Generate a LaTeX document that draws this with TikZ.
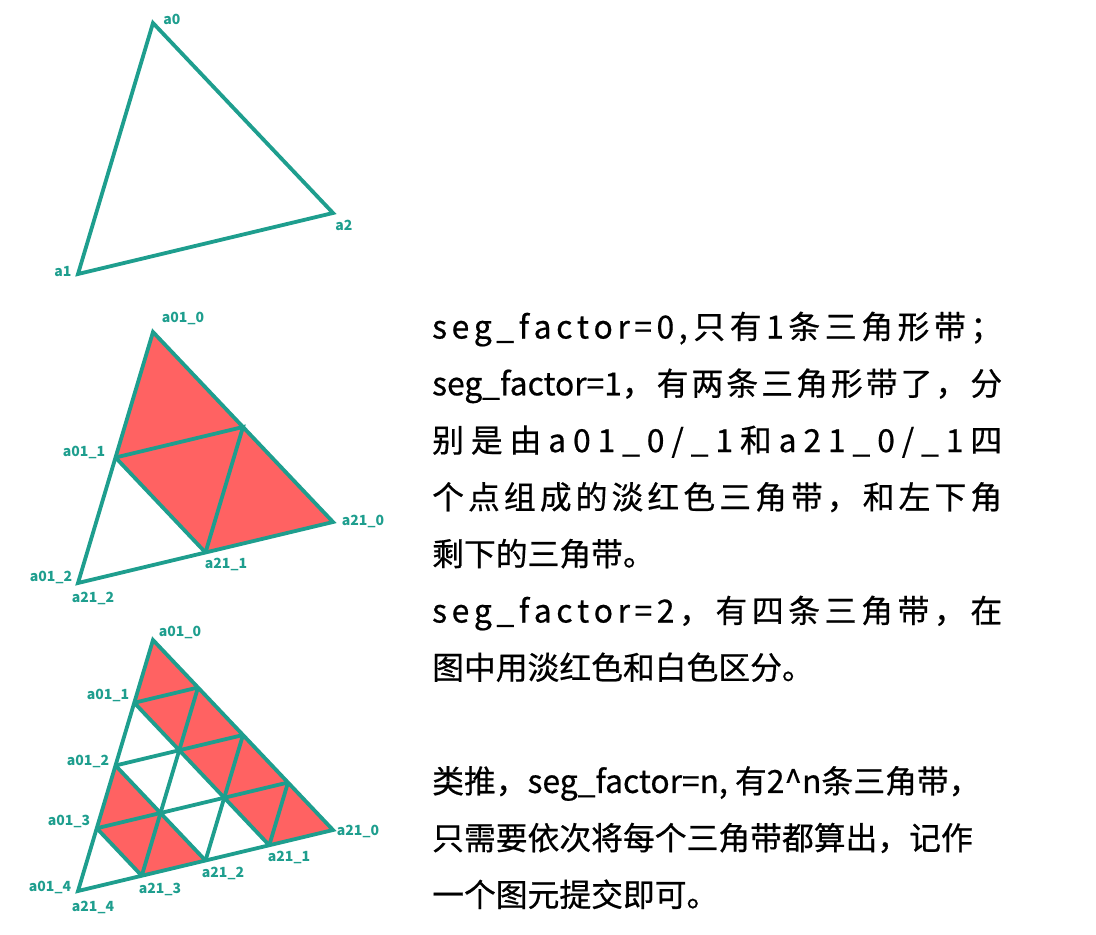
\documentclass[tikz,border=0pt]{standalone}
\usepackage{fontspec}
\setmainfont{Noto Sans CJK SC}
\newfontfamily\notefont[FakeBold=0.6]{Noto Sans CJK SC}
\usepackage{tikz}
\usetikzlibrary{calc}

\definecolor{edgeteal}{HTML}{1E9E8E}
\definecolor{bandred}{HTML}{FF6262}

% one justified line of the note, spaces stretch
\newcommand\spreadline[1]{\makebox[570pt][s]{\spaceskip=0pt plus 1fil\relax #1}}

\begin{document}
\begin{tikzpicture}[x=1pt,y=-1pt,
  edge/.style={draw=edgeteal,line width=3.8pt,line join=miter},
  band/.style={fill=bandred},
  vlbl/.style={text=edgeteal,font=\fontsize{14}{16}\selectfont\bfseries,inner sep=0pt},
  note/.style={anchor=base west,inner sep=0pt,font=\notefont\fontsize{31.8}{36}\selectfont}]
\useasboundingbox (0,0) rectangle (1096,935);

% seg_factor = 0
\coordinate (a0) at (153,23);
\coordinate (a1) at (78,274);
\coordinate (a2) at (333,213);
\draw[edge] (a0) -- (a1) -- (a2) -- cycle;
\node[vlbl] (la0) at (172,19) {a0};
\node[vlbl] (la1) at (63,272) {a1};
\node[vlbl] (la2) at (344,225) {a2};

% seg_factor = 1
\coordinate (b0) at (153,332);
\coordinate (b1) at (78,583);
\coordinate (b2) at (333,522);
\coordinate (b01) at ($(b0)!.5!(b1)$);
\coordinate (b21) at ($(b2)!.5!(b1)$);
\coordinate (b02) at ($(b0)!.5!(b2)$);
\fill[band] (b0) -- (b01) -- (b21) -- (b2) -- cycle;
\draw[edge] (b01) -- (b21);
\draw[edge] (b01) -- (b02) -- (b21);
\draw[edge] (b0) -- (b1) -- (b2) -- cycle;
\node[vlbl] (lb010) at (183,318) {a01\_0};
\node[vlbl] (lb011) at (84,452) {a01\_1};
\node[vlbl] (lb012) at (51,577) {a01\_2};
\node[vlbl] (lb212) at (93,598) {a21\_2};
\node[vlbl] (lb211) at (226,564) {a21\_1};
\node[vlbl] (lb210) at (363,521) {a21\_0};

% seg_factor = 2
\coordinate (c0) at (153,640);
\coordinate (c1) at (78,891);
\coordinate (c2) at (333,830);
\foreach \k in {0,...,4} {
  \coordinate (c01_\k) at ($(c0)!\k/4!(c1)$);
  \coordinate (c21_\k) at ($(c2)!\k/4!(c1)$);
  \coordinate (c02_\k) at ($(c0)!\k/4!(c2)$);
}
\foreach \k/\j in {0/1,2/3}
  \fill[band] (c01_\k) -- (c01_\j) -- (c21_\j) -- (c21_\k) -- cycle;
\foreach \k/\m in {1/3,2/2,3/1} {
  \draw[edge] (c01_\k) -- (c21_\k);
  \draw[edge] (c01_\k) -- (c02_\k);
  \draw[edge] (c21_\k) -- (c02_\m);
}
\draw[edge] (c0) -- (c1) -- (c2) -- cycle;
\node[vlbl] (lc010) at (180,632) {a01\_0};
\node[vlbl] (lc011) at (108,695) {a01\_1};
\node[vlbl] (lc012) at (88,761) {a01\_2};
\node[vlbl] (lc013) at (69,821) {a01\_3};
\node[vlbl] (lc014) at (50,887) {a01\_4};
\node[vlbl] (lc214) at (93,907) {a21\_4};
\node[vlbl] (lc213) at (160,889) {a21\_3};
\node[vlbl] (lc212) at (223,873) {a21\_2};
\node[vlbl] (lc211) at (289,857) {a21\_1};
\node[vlbl] (lc210) at (358,831) {a21\_0};

% the note on the right
\node[note] (l1) at (432,338.5) {\spreadline{s e g \_{} f a c t o r = 0 , 只 有 1 条 三 角 形 带 ；}};
\node[note] (l2) at (432,395.3) {\spreadline{seg\_factor=1， 有 两 条 三 角 形 带 了 ， 分}};
\node[note] (l3) at (432,452.1) {\spreadline{别 是 由 a 0 1 \_{} 0 / \_{} 1 和 a 2 1 \_{} 0 / \_{} 1 四}};
\node[note] (l4) at (432,508.9) {\spreadline{个 点 组 成 的 淡 红 色 三 角 带 ， 和 左 下 角}};
\node[note] (l5) at (432,565.7) {剩下的三角带。};
\node[note] (l6) at (432,622.5) {\spreadline{s e g \_{} f a c t o r = 2 ， 有 四 条 三 角 带 ， 在}};
\node[note] (l7) at (432,679.3) {图中用淡红色和白色区分。};
\node[note] (l8) at (432,792.9) {类推，seg\_factor=n, 有2\^{}n条三角带，};
\node[note] (l9) at (432,849.7) {只需要依次将每个三角带都算出，记作};
\node[note] (l10) at (432,906.5) {一个图元提交即可。};
\end{tikzpicture}
\end{document}
